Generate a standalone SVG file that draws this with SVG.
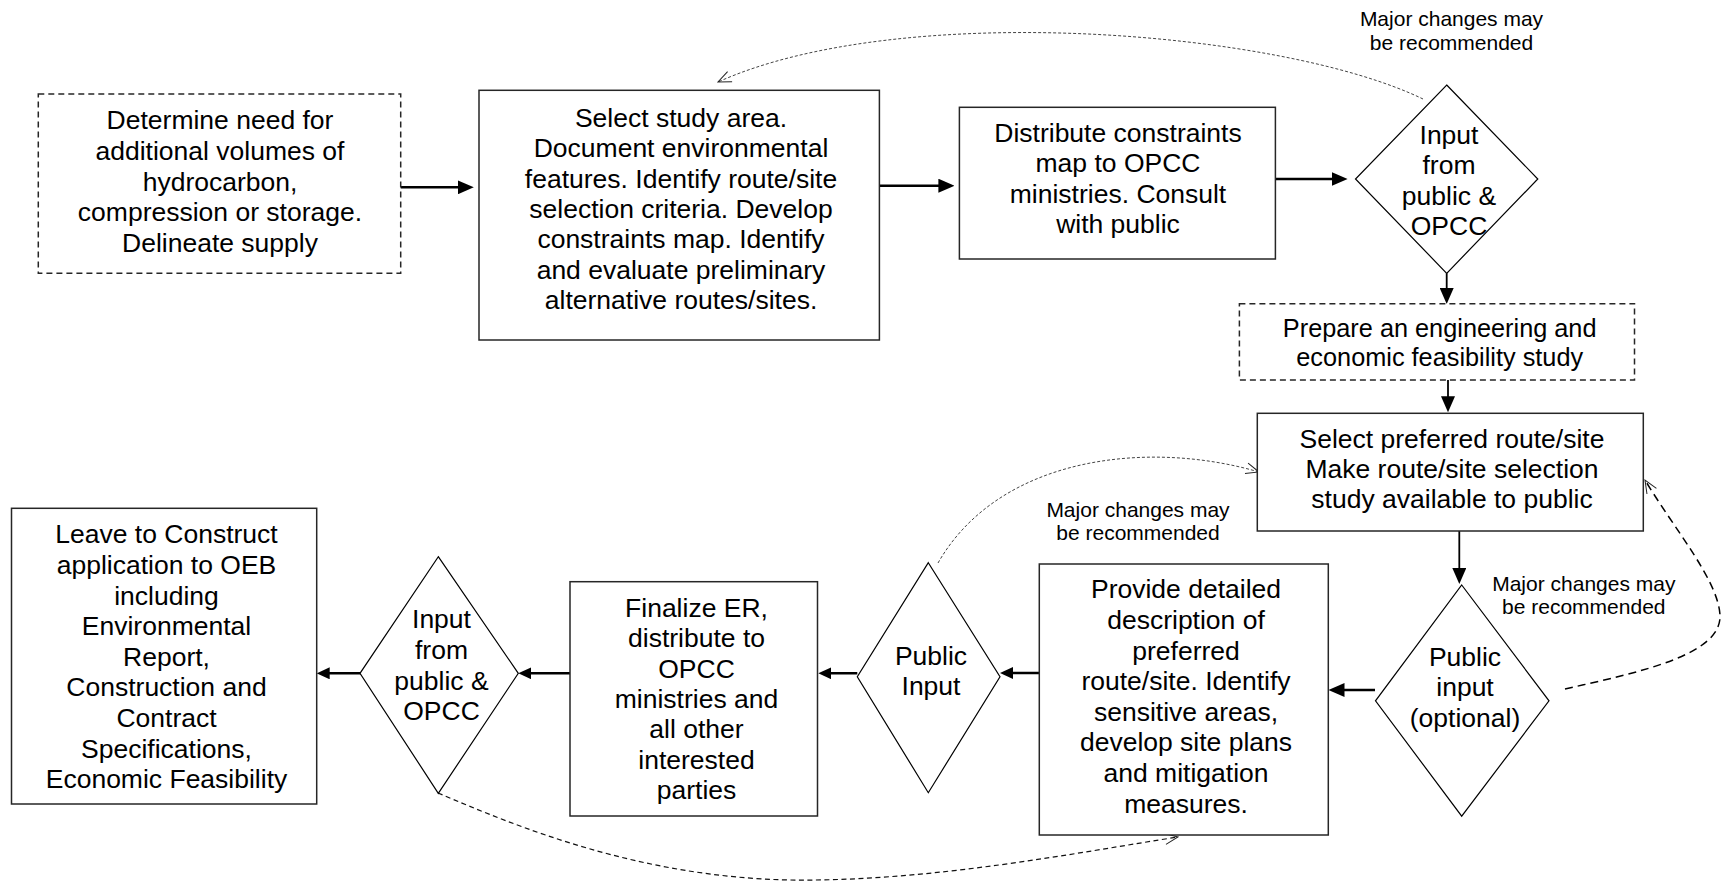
<svg xmlns="http://www.w3.org/2000/svg" width="1722" height="883" viewBox="0 0 1722 883">
<style>
.box{fill:#fff;stroke:#262626;stroke-width:1.5}
.dbox{fill:#fff;stroke:#262626;stroke-width:1.5;stroke-dasharray:6 4}
.dia{fill:#fff;stroke:#000;stroke-width:1.2}
.t{font-family:"Liberation Sans",Arial,Helvetica,sans-serif;font-size:26.5px;fill:#000;text-anchor:middle}
.t2{font-size:25.3px}
.lbl{font-family:"Liberation Sans",Arial,Helvetica,sans-serif;font-size:21px;fill:#000;text-anchor:middle}
.a{stroke:#000;fill:none;stroke-width:2.5}
.av{stroke:#000;fill:none;stroke-width:1.8}
.dot{stroke:#444;fill:none;stroke-width:1;stroke-dasharray:3 2}
.dash1{stroke:#000;fill:none;stroke-width:1.5;stroke-dasharray:8 5}
.dash2{stroke:#111;fill:none;stroke-width:1.2;stroke-dasharray:5 3.5}
</style>
<defs>
<marker id="big" viewBox="0 0 16 14" refX="10" refY="7" markerWidth="16" markerHeight="14" markerUnits="userSpaceOnUse" orient="auto">
<path d="M0,0 L16,7 L0,14 z" fill="#000"/>
</marker>
<marker id="small" viewBox="0 0 13 12" refX="7" refY="6" markerWidth="13" markerHeight="12" markerUnits="userSpaceOnUse" orient="auto">
<path d="M0,0 L13,6 L0,12 z" fill="#000"/>
</marker>
<marker id="open" viewBox="0 0 15 13" refX="14" refY="6.5" markerWidth="15" markerHeight="13" markerUnits="userSpaceOnUse" orient="auto">
<path d="M1,1 L14,6.5 L1,12" fill="none" stroke="#222" stroke-width="1"/>
</marker>
</defs>

<g id="connectors">
<line class="a" x1="396" y1="187.3" x2="467.8" y2="187.3" marker-end="url(#big)"/>
<line class="a" x1="876.7" y1="185.7" x2="948.4" y2="185.7" marker-end="url(#big)"/>
<line class="a" x1="1270.8" y1="179" x2="1341.6" y2="179" marker-end="url(#big)"/>
<line class="av" x1="1446.7" y1="273.3" x2="1446.7" y2="298" marker-end="url(#big)"/>
<line class="av" x1="1448" y1="380" x2="1448" y2="406.3" marker-end="url(#big)"/>
<line class="av" x1="1459.3" y1="531" x2="1459.3" y2="578" marker-end="url(#big)"/>
<line class="a" x1="1375" y1="690" x2="1334.5" y2="690" marker-end="url(#big)"/>
<line class="a" x1="1039.3" y1="673" x2="1006" y2="673" marker-end="url(#small)"/>
<line class="a" x1="857.3" y1="673.3" x2="824.3" y2="673.3" marker-end="url(#small)"/>
<line class="a" x1="570" y1="673.3" x2="524.3" y2="673.3" marker-end="url(#small)"/>
<line class="a" x1="368.3" y1="673.3" x2="322.7" y2="673.3" marker-end="url(#small)"/>
<path class="dot" d="M1423,99 C1280,30 900,0 718,82" marker-end="url(#open)"/>
<path class="dot" d="M938,563 C1000,455 1150,440 1259,472" marker-end="url(#open)"/>
<path class="dash1" d="M1565,689 C1640,672 1722,655 1720,615 C1718,580 1675,530 1645,480" marker-end="url(#open)"/>
<path class="dash2" d="M438,793 C520,828 640,877 790,880 C930,882 1080,852 1178,837" marker-end="url(#open)"/>
</g>

<g id="n1">
<rect class="dbox" x="38.3" y="94" width="362.4" height="179.3"/>
<text class="t"><tspan x="220" y="129.3">Determine need for</tspan><tspan x="220" y="159.9">additional volumes of</tspan><tspan x="220" y="190.5">hydrocarbon,</tspan><tspan x="220" y="221.1">compression or storage.</tspan><tspan x="220" y="251.7">Delineate supply</tspan></text>
</g>

<g id="n2">
<rect class="box" x="479" y="90.3" width="400.4" height="249.7"/>
<text class="t"><tspan x="681" y="127">Select study area.</tspan><tspan x="681" y="157.3">Document environmental</tspan><tspan x="681" y="187.6">features. Identify route/site</tspan><tspan x="681" y="217.9">selection criteria. Develop</tspan><tspan x="681" y="248.2">constraints map. Identify</tspan><tspan x="681" y="278.5">and evaluate preliminary</tspan><tspan x="681" y="308.8">alternative routes/sites.</tspan></text>
</g>

<g id="n3">
<rect class="box" x="959.4" y="107.3" width="316" height="151.7"/>
<text class="t"><tspan x="1118" y="141.7">Distribute constraints</tspan><tspan x="1118" y="172.2">map to OPCC</tspan><tspan x="1118" y="202.7">ministries. Consult</tspan><tspan x="1118" y="233.2">with public</tspan></text>
</g>

<g id="d1">
<polygon class="dia" points="1446.7,85 1537.8,179 1446.7,273.3 1355.5,179"/>
<text class="t"><tspan x="1449" y="144">Input</tspan><tspan x="1449" y="174.3">from</tspan><tspan x="1449" y="204.6">public &amp;</tspan><tspan x="1449" y="234.9">OPCC</tspan></text>
</g>

<g id="lbl1">
<text class="lbl"><tspan x="1451.5" y="26">Major changes may</tspan><tspan x="1451.5" y="50">be recommended</tspan></text>
</g>

<g id="n4">
<rect class="dbox" x="1239.4" y="303.7" width="395.1" height="76.3"/>
<text class="t t2"><tspan x="1439.7" y="337.2">Prepare an engineering and</tspan><tspan x="1439.7" y="366.2">economic feasibility study</tspan></text>
</g>

<g id="n5">
<rect class="box" x="1257.3" y="413.3" width="386" height="117.7"/>
<text class="t"><tspan x="1452" y="448">Select preferred route/site</tspan><tspan x="1452" y="478.2">Make route/site selection</tspan><tspan x="1452" y="508.4">study available to public</tspan></text>
</g>

<g id="d2">
<polygon class="dia" points="1461.7,585 1549,700.8 1461.7,816.2 1375.5,700.8"/>
<text class="t"><tspan x="1465" y="666">Public</tspan><tspan x="1465" y="696.4">input</tspan><tspan x="1465" y="726.8">(optional)</tspan></text>
</g>

<g id="lbl2">
<text class="lbl"><tspan x="1583.8" y="591">Major changes may</tspan><tspan x="1583.8" y="614.3">be recommended</tspan></text>
</g>

<g id="lbl3">
<text class="lbl"><tspan x="1138" y="516.8">Major changes may</tspan><tspan x="1138" y="539.5">be recommended</tspan></text>
</g>

<g id="n6">
<rect class="box" x="1039.3" y="564" width="289" height="271"/>
<text class="t"><tspan x="1186" y="598.3">Provide detailed</tspan><tspan x="1186" y="628.9">description of</tspan><tspan x="1186" y="659.5">preferred</tspan><tspan x="1186" y="690.1">route/site. Identify</tspan><tspan x="1186" y="720.7">sensitive areas,</tspan><tspan x="1186" y="751.3">develop site plans</tspan><tspan x="1186" y="781.9">and mitigation</tspan><tspan x="1186" y="812.5">measures.</tspan></text>
</g>

<g id="d3">
<polygon class="dia" points="928.3,562.7 1000,676.7 928.3,792.7 857.3,676.7"/>
<text class="t"><tspan x="931" y="665">Public</tspan><tspan x="931" y="695">Input</tspan></text>
</g>

<g id="n7">
<rect class="box" x="570" y="581.7" width="247.5" height="234.3"/>
<text class="t"><tspan x="696.5" y="616.7">Finalize ER,</tspan><tspan x="696.5" y="647.1">distribute to</tspan><tspan x="696.5" y="677.5">OPCC</tspan><tspan x="696.5" y="707.9">ministries and</tspan><tspan x="696.5" y="738.3">all other</tspan><tspan x="696.5" y="768.7">interested</tspan><tspan x="696.5" y="799.1">parties</tspan></text>
</g>

<g id="d4">
<polygon class="dia" points="438.3,556.7 518.3,673.3 438.3,793.3 360,673.3"/>
<text class="t"><tspan x="441.5" y="628.3">Input</tspan><tspan x="441.5" y="658.9">from</tspan><tspan x="441.5" y="689.5">public &amp;</tspan><tspan x="441.5" y="720.1">OPCC</tspan></text>
</g>

<g id="n8">
<rect class="box" x="11.5" y="508.3" width="305.2" height="295.7"/>
<text class="t"><tspan x="166.5" y="543.3">Leave to Construct</tspan><tspan x="166.5" y="573.9">application to OEB</tspan><tspan x="166.5" y="604.5">including</tspan><tspan x="166.5" y="635.1">Environmental</tspan><tspan x="166.5" y="665.7">Report,</tspan><tspan x="166.5" y="696.3">Construction and</tspan><tspan x="166.5" y="726.9">Contract</tspan><tspan x="166.5" y="757.5">Specifications,</tspan><tspan x="166.5" y="788.1">Economic Feasibility</tspan></text>
</g>
</svg>
